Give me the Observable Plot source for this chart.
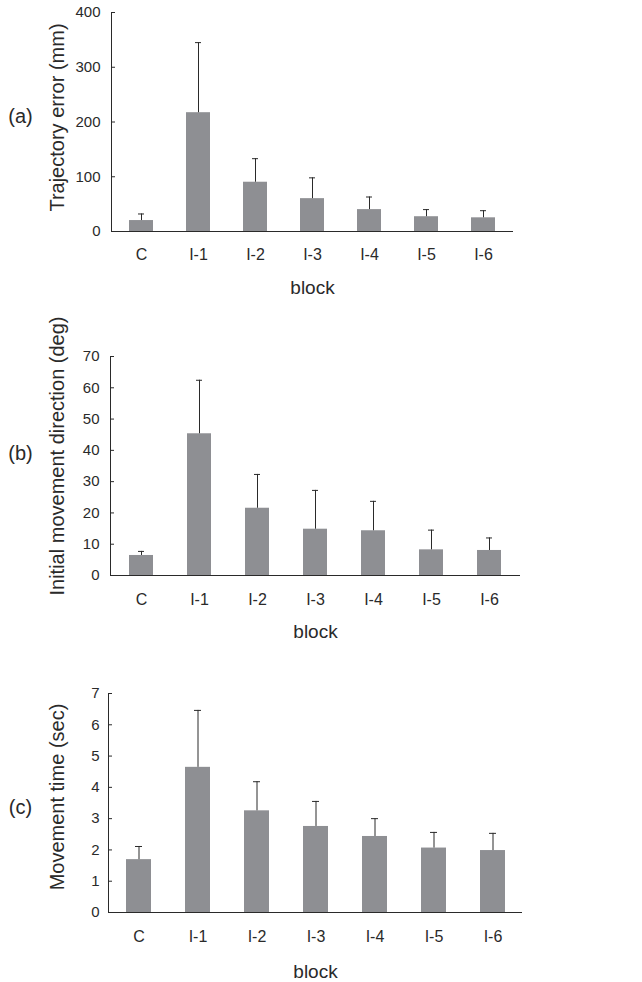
<!DOCTYPE html>
<html><head><meta charset="utf-8">
<script src="https://cdn.jsdelivr.net/npm/d3@7"></script>
<script src="https://cdn.jsdelivr.net/npm/@observablehq/plot@0.6"></script>
<style>
body{margin:0;background:#fff;}
#wrap{position:relative;width:642px;height:982px;background:#fff;}
.panel{position:absolute;left:0;}
</style></head><body><div id="wrap"></div>
<script>
const blocks = ["C", "I-1", "I-2", "I-3", "I-4", "I-5", "I-6"];

const trajMean = [20, 217, 90, 60, 40, 27, 25];
const trajSD   = [12, 128, 43, 38, 23, 13, 13];
const trajTicks = [0, 100, 200, 300, 400];

const dirMean = [6.4, 45.3, 21.5, 14.8, 14.3, 8.2, 8.0];
const dirSD   = [1.3, 17.1, 10.8, 12.4, 9.4, 6.3, 4.0];
const dirTicks = [0, 10, 20, 30, 40, 50, 60, 70];

const timeMean = [1.69, 4.64, 3.25, 2.75, 2.43, 2.06, 1.98];
const timeSD   = [0.42, 1.82, 0.93, 0.80, 0.57, 0.50, 0.55];
const timeTicks = [0, 1, 2, 3, 4, 5, 6, 7];

const INK = "#2a2a2a";
const BAR = "#8e8f93";
const FONT = "'Liberation Sans', Arial, Helvetica, sans-serif";

function panel(o) {
  const data = blocks.map((b, i) => ({block: b, mean: o.mean[i], hi: o.mean[i] + o.sd[i]}));
  const plot = Plot.plot({
    width: 642, height: o.height,
    marginTop: o.mt, marginBottom: o.mb, marginLeft: o.ml, marginRight: o.mr,
    style: {fontFamily: FONT, color: INK, background: "#fff", overflow: "visible"},
    x: {domain: blocks, paddingInner: 0.58, paddingOuter: 0.29, axis: null},
    y: {domain: o.domain, axis: null},
    marks: [
      Plot.barY(data, {x: "block", y: "mean", fill: BAR}),
      Plot.ruleX(data, {x: "block", y1: "mean", y2: "hi", stroke: INK, strokeWidth: 1}),
      Plot.tickY(data, {x: "block", y: "hi", inset: 9, stroke: INK, strokeWidth: 1}),
      Plot.ruleY([0], {stroke: INK}),
      Plot.frame({anchor: "left", stroke: INK}),
      Plot.axisY({ticks: o.ticks, tickFormat: d => String(d), tickSize: 0, tickPadding: o.yTickPad, fontSize: 15, label: null}),
      Plot.axisY({ticks: o.ticks, tickSize: 4, dx: 4, fill: "none", stroke: INK, label: null}),
      Plot.axisX({tickSize: 0, tickPadding: o.xTickPad, fontSize: 16, label: null}),
      Plot.text([o.ylabel], {frameAnchor: "left", textAnchor: "middle", dx: 57 - o.ml, dy: o.labelDy, rotate: -90, fontSize: 20, fill: INK}),
      Plot.text([o.tag], {frameAnchor: "left", textAnchor: "middle", dx: 20 - o.ml, dy: o.tagDy, fontSize: 20, fill: INK}),
      Plot.text(["block"], {frameAnchor: "bottom", dy: o.blockDy, lineAnchor: "bottom", fontSize: 19, fill: INK})
    ]
  });
  const div = document.createElement("div");
  div.className = "panel";
  div.style.top = o.top + "px";
  div.appendChild(plot);
  document.getElementById("wrap").appendChild(div);
}

panel({top: 0, height: 320, mt: 12, mb: 89, ml: 111, mr: 129, domain: [0, 400], ticks: trajTicks,
  mean: trajMean, sd: trajSD, ylabel: "Trajectory error (mm)", tag: "(a)",
  labelDy: -4.5, tagDy: -5.5, xTickPad: 17, blockDy: 62, yTickPad: 11});

panel({top: 320, height: 330, mt: 36, mb: 75, ml: 110, mr: 122, domain: [0, 70], ticks: dirTicks,
  mean: dirMean, sd: dirSD, ylabel: "Initial movement direction (deg)", tag: "(b)",
  labelDy: -10, tagDy: -12, xTickPad: 18, blockDy: 62, yTickPad: 11});

panel({top: 650, height: 332, mt: 43, mb: 70, ml: 108, mr: 120, domain: [0, 7], ticks: timeTicks,
  mean: timeMean, sd: timeSD, ylabel: "Movement time (sec)", tag: "(c)",
  labelDy: -6, tagDy: 4.5, xTickPad: 18, blockDy: 65, yTickPad: 9});
</script>
</body></html>
